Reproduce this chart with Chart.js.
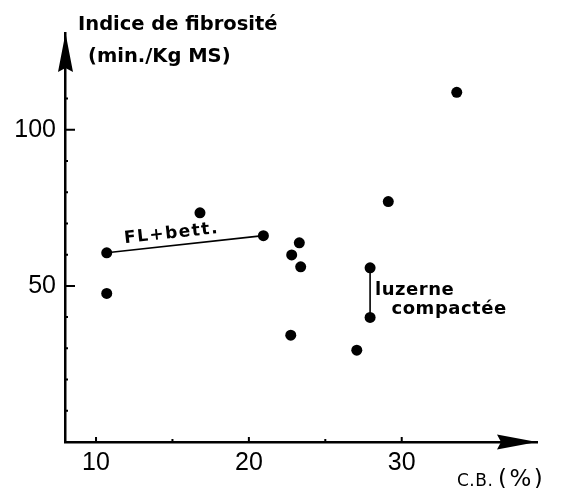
<!DOCTYPE html>
<html><head><meta charset="utf-8">
<script src="https://cdn.jsdelivr.net/npm/chart.js@4.4.0/dist/chart.umd.min.js"></script>
<style>html,body{margin:0;padding:0;background:#fff;}canvas{display:block;}</style>
</head><body>
<canvas id="c" width="563" height="488"></canvas>
<script>
// ---- Data: C.B. (%) vs Indice de fibrosité (min./Kg MS)
const flBettCB   = [10.7, 20.95];
const flBettIdx  = [60.6, 66.1];
const luzerneCB  = [27.93, 27.93];
const luzerneIdx = [55.8, 39.9];
const otherCB    = [10.7, 16.8, 23.3, 22.8, 23.39, 22.74, 27.06, 29.12, 33.6];
const otherIdx   = [47.6, 73.4, 63.8, 59.9, 56.1, 34.2, 29.4, 77.0, 112.0];
const xTickValues = [10, 20, 30];
const xMinorTicks = [15, 25];
const yTickValues = [50, 100];
const yMinorTicks = [10, 20, 30, 40, 60, 70, 80, 90, 110];
const xTitleParts = ['C.B.', '(%)'];
const yTitleLines = ['Indice de fibrosité', '(min./Kg MS)'];
const flBettLabel = 'FL+bett.';
const luzerneLabel = ['luzerne', 'compactée'];

const ink = '#000';
const pts = (xs, ys) => xs.map((x, i) => ({x, y: ys[i]}));

const decor = {
  id: 'decor',
  afterDraw(chart) {
    const {ctx, chartArea: a, scales: {x, y}} = chart;
    ctx.save();
    ctx.fillStyle = ink; ctx.strokeStyle = ink;
    // arrowheads
    ctx.beginPath();
    ctx.moveTo(a.left + 0.5, a.top);
    ctx.lineTo(a.left - 7, a.top + 39);
    ctx.lineTo(a.left + 0.5, a.top + 35);
    ctx.lineTo(a.left + 8, a.top + 39);
    ctx.closePath(); ctx.fill();
    ctx.beginPath();
    ctx.moveTo(a.right, a.bottom);
    ctx.lineTo(a.right - 40, a.bottom - 7.5);
    ctx.lineTo(a.right - 36, a.bottom);
    ctx.lineTo(a.right - 40, a.bottom + 7.5);
    ctx.closePath(); ctx.fill();
    // inward tick marks
    ctx.lineWidth = 2;
    ctx.beginPath();
    yTickValues.forEach(v => { const p = y.getPixelForValue(v); ctx.moveTo(a.left, p); ctx.lineTo(a.left + 10, p); });
    yMinorTicks.forEach(v => { const p = y.getPixelForValue(v); ctx.moveTo(a.left, p); ctx.lineTo(a.left + 3, p); });
    xTickValues.forEach(v => { const p = x.getPixelForValue(v); ctx.moveTo(p, a.bottom); ctx.lineTo(p, a.bottom - 5); });
    xMinorTicks.forEach(v => { const p = x.getPixelForValue(v); ctx.moveTo(p, a.bottom); ctx.lineTo(p, a.bottom - 3); });
    ctx.stroke();
    // axis titles
    ctx.textBaseline = 'alphabetic'; ctx.textAlign = 'left';
    ctx.font = 'bold 19.5px "DejaVu Sans"';
    ctx.fillText(yTitleLines[0], a.left + 13, 29.5);
    ctx.fillText(yTitleLines[1], a.left + 23, 61.5);
    ctx.font = '17px "DejaVu Sans"';
    ctx.letterSpacing = '0.5px';
    ctx.fillText(xTitleParts[0], 457, 486);
    ctx.font = '23px "DejaVu Sans"';
    ctx.letterSpacing = '2.5px';
    ctx.fillText(xTitleParts[1], 498, 486);
    ctx.letterSpacing = '0px';
    // FL+bett. label along its line
    const p0 = {x: x.getPixelForValue(flBettCB[0]), y: y.getPixelForValue(flBettIdx[0])};
    const p1 = {x: x.getPixelForValue(flBettCB[1]), y: y.getPixelForValue(flBettIdx[1])};
    const ang = Math.atan2(p1.y - p0.y, p1.x - p0.x);
    ctx.save();
    ctx.translate(p0.x, p0.y); ctx.rotate(ang);
    ctx.font = 'bold 17px "DejaVu Sans"';
    ctx.letterSpacing = '1.5px';
    ctx.fillText(flBettLabel, 19, -7.5);
    ctx.restore();
    // luzerne compactée label
    const lx = x.getPixelForValue(luzerneCB[0]), ly = y.getPixelForValue(luzerneIdx[0]);
    ctx.font = 'bold 18px "DejaVu Sans"';
    ctx.letterSpacing = '0.5px';
    ctx.fillText(luzerneLabel[0], lx + 5, ly + 27.5);
    ctx.fillText(luzerneLabel[1], lx + 21.5, ly + 45.8);
    ctx.restore();
  }
};

const pointStyle = {backgroundColor: ink, borderColor: ink, pointRadius: 5.5, pointBorderWidth: 0, pointBackgroundColor: ink};

new Chart(document.getElementById('c'), {
  type: 'scatter',
  data: {
    datasets: [
      {data: pts(otherCB, otherIdx), ...pointStyle, showLine: false},
      {data: pts(flBettCB, flBettIdx), ...pointStyle, borderWidth: 1.6, showLine: true},
      {data: pts(luzerneCB, luzerneIdx), ...pointStyle, borderWidth: 1.6, showLine: true}
    ]
  },
  options: {
    responsive: false, animation: false, devicePixelRatio: 1,
    layout: {padding: {top: 33, right: 26, left: 0, bottom: 0}},
    plugins: {legend: {display: false}, tooltip: {enabled: false}},
    scales: {
      x: {
        type: 'linear', min: 7.97, max: 38.85,
        afterBuildTicks: s => { s.ticks = xTickValues.map(v => ({value: v})); },
        afterFit: s => { s.height = 46; },
        grid: {display: false, drawTicks: false},
        border: {display: true, color: ink, width: 2.5},
        ticks: {color: ink, padding: 6, font: {family: '"Liberation Sans"', size: 25}}
      },
      y: {
        type: 'linear', min: 0, max: 131,
        afterBuildTicks: s => { s.ticks = yTickValues.map(v => ({value: v})); },
        afterFit: s => { s.width = 65; },
        grid: {display: false, drawTicks: false},
        border: {display: true, color: ink, width: 2.5},
        ticks: {color: ink, padding: 9, font: {family: '"Liberation Sans"', size: 25}}
      }
    }
  },
  plugins: [decor]
});
</script>
</body></html>
